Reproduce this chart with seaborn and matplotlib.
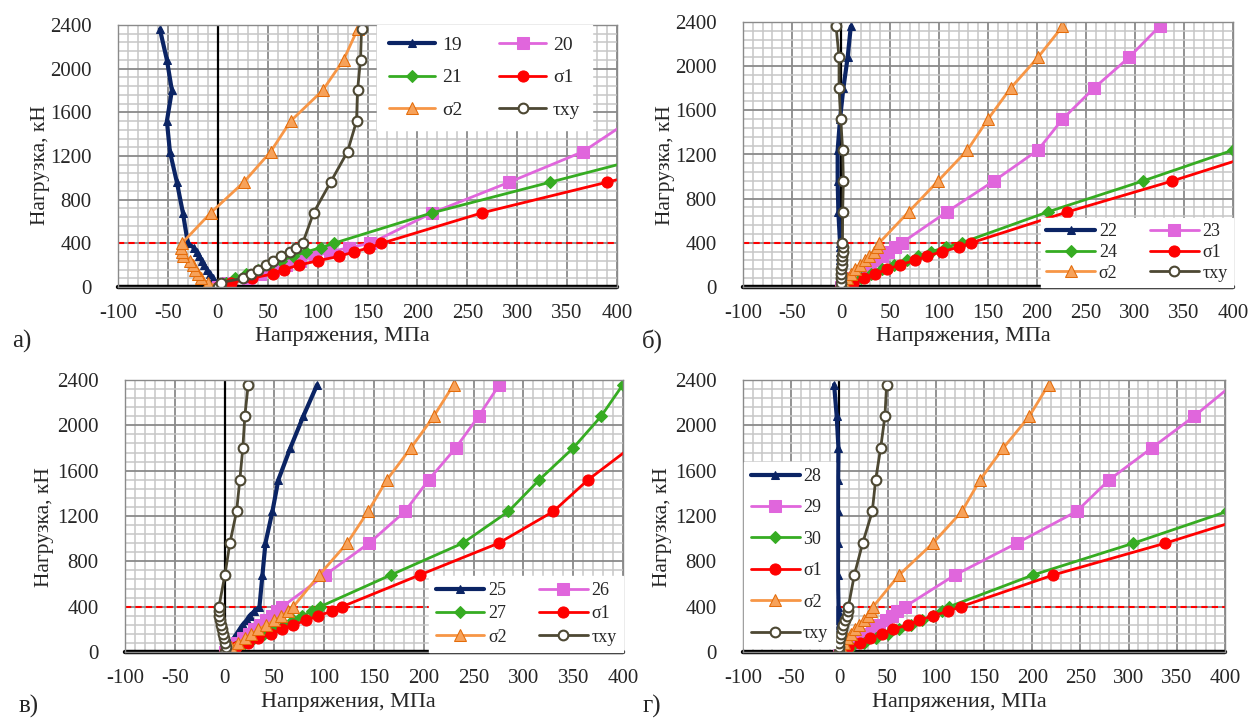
import numpy as np
import matplotlib
matplotlib.use("Agg")
import matplotlib.pyplot as plt
from matplotlib import font_manager as fm
from matplotlib.ticker import MultipleLocator
import seaborn as sns

nan = np.nan
LOADS = [0, 40, 80, 120, 160, 200, 240, 280, 320, 360, 400,
         680, 960, 1240, 1520, 1800, 2080, 2360]

# panel а
a_labels = ["19", "20", "21", "σ1", "σ2", "τxy"]
a_19 = [0, -2, -5, -8, -11, -14, -16, -19, -21, -24, -30, -35, -41, -48, -51, -46, -51, -58]
a_20 = [0, 10, 30, 42, 55, 68, 82, 97, 112, 131, 153, 215, 292, 366, 412, nan, nan, nan]
a_21 = [0, 8, 17, 28, 40, 52, 63, 75, 88, 103, 116, 215, 333, 451, nan, nan, nan, nan]
a_s1 = [0, 13, 34, 55, 66, 81, 100, 121, 136, 152, 164, 265, 390, 515, nan, nan, nan, nan]
a_s2 = [0, -10, -17, -20, -23, -25, -28, -35, -36, -37, -36, -7, 26, 53, 73, 105, 126, 140]
a_txy = [0, 3, 25, 33, 40, 48, 55, 63, 72, 78, 85, 96, 113, 130, 139, 140, 143, 144]

# panel б
b_labels = ["22", "23", "24", "σ1", "σ2", "τxy"]
b_22 = [0, 0, -1, -1, -1, -1, -1, -1, -1, -1, -1, -2.7, -3.4, -3.4, -1, 2.4, 6.8, 10]
b_23 = [0, 6, 12, 18, 24, 30, 36, 42, 48, 55, 62, 108, 156, 201, 226, 258, 294, 325]
b_24 = [0, 10, 20, 31, 42, 54, 67, 79, 92, 107, 123, 211, 308, 400, nan, nan, nan, nan]
b_s1 = [0, 12, 23, 35, 47, 60, 75, 88, 103, 120, 133, 231, 338, 437, nan, nan, nan, nan]
b_s2 = [0, 3, 6, 10, 14, 19, 24, 29, 34, 37, 39, 69, 99, 129, 150, 173, 201, 226]
b_txy = [0, 0, 0, 0.5, 0.5, 1, 1, 1.5, 2, 2.5, 1.5, 1.7, 2.4, 1.7, -0.3, -2, -2, -5]

# panel в
c_labels = ["25", "26", "27", "σ1", "σ2", "τxy"]
c_25 = [0, 3, 6, 9, 12, 15, 18, 22, 25, 30, 35, 38, 41, 48, 54, 66, 79, 93]
c_26 = [0, 6, 12, 18, 24, 30, 36, 42, 48, 53, 58, 101, 145, 181, 205, 232, 255, 276]
c_27 = [0, 10, 20, 30, 40, 50, 60, 69, 78, 88, 96, 167, 239, 285, 316, 350, 378, 400]
c_s1 = [0, 11, 23, 34, 47, 58, 69, 82, 94, 108, 118, 196, 275, 330, 365, 407, nan, nan]
c_s2 = [0, 6, 13, 20, 27, 34, 42, 50, 57, 64, 69, 95, 123, 144, 163, 187, 210, 230]
c_txy = [0, 1, 0, -1, -2, -3, -4, -4.7, -5.5, -5.7, -5.7, 0.3, 5.3, 12, 15.3, 18.3, 20.3, 23.7]

# panel г
d_labels = ["28", "29", "30", "σ1", "σ2", "τxy"]
d_28 = [0, 0, 0, -0.5, -0.5, -0.5, -0.5, -1, -1, -1, -1, -1.7, -1.4, -1.7, -1.4, -1, -2.8, -5.5]
d_29 = [0, 5, 12, 19, 27, 34, 41, 48, 55, 60, 68, 120, 184, 246, 280, 324, 368, 408]
d_30 = [0, 12, 25, 38, 50, 62, 74, 86, 97, 106, 114, 201, 305, 402, nan, nan, nan, nan]
d_s1 = [0, 9, 21, 32, 44, 56, 71, 83, 97, 113, 126, 222, 338, 443, nan, nan, nan, nan]
d_s2 = [0, 2, 5, 8, 12, 16, 20, 25, 30, 33, 35, 62, 97, 127, 146, 170, 197, 217]
d_txy = [0, 0, 0, 0.7, 1.7, 3.1, 4.1, 5.9, 7.6, 8.5, 9.3, 15.5, 24.1, 34.1, 37.6, 42.8, 47.2, 49]

X_TICKS = [-100, -50, 0, 50, 100, 150, 200, 250, 300, 350, 400]
Y_TICKS = [0, 400, 800, 1200, 1600, 2000, 2400]

sns.set_theme(style="white")
plt.rcParams["font.family"] = "serif"
plt.rcParams["font.serif"] = ["Liberation Serif", "DejaVu Serif"]
plt.rcParams["axes.unicode_minus"] = False

STYLES = [
    dict(color="#0b2464", marker="^", markersize=6, markerfacecolor="#0b2464",
         markeredgecolor="#0b2464", linewidth=3.0),
    dict(color="#e066dc", marker="s", markersize=9, markerfacecolor="#e066dc",
         markeredgecolor="#e066dc", linewidth=2.0),
    dict(color="#36ac22", marker="D", markersize=6.5, markerfacecolor="#36ac22",
         markeredgecolor="#36ac22", linewidth=2.0),
    dict(color="#ff0000", marker="o", markersize=8, markerfacecolor="#ff0000",
         markeredgecolor="#ff0000", linewidth=2.0),
    dict(color="#f79646", marker="^", markersize=9, markerfacecolor="#f7a25a",
         markeredgecolor="#e46c0a", linewidth=2.0),
    dict(color="#4d4833", marker="o", markersize=7, markerfacecolor="white",
         markeredgecolor="#4d4833", markeredgewidth=1.5, linewidth=2.0),
]

W, H = 1253, 718
fig = plt.figure(figsize=(W / 100, H / 100), dpi=100)


def px_axes(left, right, top, bottom):
    return fig.add_axes([left / W, 1 - bottom / H, (right - left) / W, (bottom - top) / H])


def draw(ax, series, labels, legend_kw, order):
    ax.set_xlim(-100, 400)
    ax.set_ylim(0, 2400)
    ax.set_xticks(X_TICKS)
    ax.set_yticks(Y_TICKS)
    ax.xaxis.set_minor_locator(MultipleLocator(10))
    ax.yaxis.set_minor_locator(MultipleLocator(80))
    ax.grid(which="minor", color="#c6c6c6", linewidth=1.1)
    ax.grid(which="major", color="#8a8a8a", linewidth=1.3)
    ax.set_axisbelow(True)
    ax.tick_params(which="both", length=0, labelsize=15)
    ax.tick_params(axis="y", pad=19)
    ax.tick_params(axis="x", pad=12)
    for sp in ax.spines.values():
        sp.set_color("#8a8a8a")
        sp.set_linewidth(1.0)
    ax.axhline(400, color="red", linestyle=(0, (3, 2)), linewidth=1.5, zorder=1.5)
    ax.axvline(0, color="black", linewidth=1.6, zorder=1.6)
    ax.axhline(0, color="black", linewidth=3.2, zorder=1.7, clip_on=False)
    for vals, lab, st in zip(series, labels, STYLES):
        sns.lineplot(x=vals, y=LOADS, sort=False, estimator=None, ax=ax, label=lab, **st)
    handles, labs = ax.get_legend_handles_labels()
    hmap = dict(zip(labs, handles))
    hs = [hmap[labels[i]] for i in order]
    ls = [labels[i] for i in order]
    leg = ax.legend(hs, ls, frameon=True, fancybox=False, framealpha=1,
                    edgecolor="white", facecolor="white", numpoints=1,
                    borderaxespad=0, **legend_kw)
    leg.set_zorder(10)
    ax.set_xlabel("")
    ax.set_ylabel("")


ax_a = px_axes(118, 617, 25, 287)
draw(ax_a, [a_19, a_20, a_21, a_s1, a_s2, a_txy], a_labels,
     dict(loc="upper left", bbox_to_anchor=(0.519, 1), ncol=2, fontsize=14,
          handlelength=2.4, handletextpad=0.35, columnspacing=1.9,
          labelspacing=0.75, borderpad=0.6),
     [0, 2, 4, 1, 3, 5])

ax_b = px_axes(743, 1233, 22, 287)
draw(ax_b, [b_22, b_23, b_24, b_s1, b_s2, b_txy], b_labels,
     dict(loc="lower right", bbox_to_anchor=(1, 0.0), ncol=2, fontsize=13,
          handlelength=2.7, handletextpad=0.2, columnspacing=1.8,
          labelspacing=0.2, borderpad=0.3),
     [0, 2, 4, 1, 3, 5])

ax_c = px_axes(125, 623, 380, 652)
draw(ax_c, [c_25, c_26, c_27, c_s1, c_s2, c_txy], c_labels,
     dict(loc="lower right", bbox_to_anchor=(1, 0.0), ncol=2, fontsize=13,
          handlelength=2.7, handletextpad=0.2, columnspacing=1.8,
          labelspacing=0.35, borderpad=0.35),
     [0, 2, 4, 1, 3, 5])

ax_d = px_axes(743, 1225, 380, 652)
draw(ax_d, [d_28, d_29, d_30, d_s1, d_s2, d_txy], d_labels,
     dict(loc="upper left", bbox_to_anchor=(0.003, 0.70), ncol=1, fontsize=13,
          handlelength=2.7, handletextpad=0.2, labelspacing=0.8, borderpad=0.35),
     [0, 1, 2, 3, 4, 5])


def ftext(x, y, s, **kw):
    fig.text(x / W, 1 - y / H, s, ha="center", va="center", **kw)


for (xl, yl), (yx, yy), (lx, ly), letter in [
    ((342, 337), (41, 165), (22, 341), "а)"),
    ((963, 337), (665, 165), (652, 341), "б)"),
    ((348, 702), (45, 527), (29, 706), "в)"),
    ((959, 702), (663, 527), (652, 706), "г)"),
]:
    ftext(xl, yl, "Напряжения, МПа", fontsize=16)
    ftext(yx, yy, "Нагрузка, кН", fontsize=15.5, rotation=90)
    ftext(lx, ly, letter, fontsize=18)

fig.savefig("out.png", dpi=100)
